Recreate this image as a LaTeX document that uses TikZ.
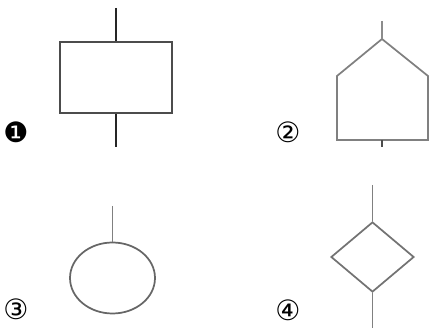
\documentclass[tikz,border=0pt]{standalone}
\usepackage{fontspec}
\newfontfamily\symfont{DejaVu Sans}
\usetikzlibrary{shapes.geometric, positioning}

\begin{document}
\begin{tikzpicture}[x=0.75pt, y=-0.75pt, font=\symfont\fontsize{21}{21}\selectfont]
				\useasboundingbox (0,0) rectangle (430,328);
				\tikzset{shape line/.style={draw=black!55, line width=1.3pt, inner sep=0pt}}
				
				% 1: rectangle
				\node[shape line, draw=black!70, line width=1.6pt, rectangle, minimum width=84pt, minimum height=53pt] (box) at (116,77.5) {};
				\coordinate (boxin) at (116,8);
				\coordinate (boxout) at (116,147);
				\draw[black!85, line width=1pt] (boxin) -- (box.north);
				\draw[black!85, line width=1pt] (box.south) -- (boxout);
				\node (n1) at (16,132) {❶};
				
				% 2: house
				\coordinate (roof) at (382,39);
				\coordinate (base) at (382,140);
				\draw[black!50, line width=1.3pt, line join=miter] (roof) -- (428,76) -- (428,140) -- (337,140) -- (337,76) -- cycle;
				\coordinate (roofin) at (382,21);
				\coordinate (baseout) at (382,147);
				\draw[black!45, line width=1.3pt] (roofin) -- (roof);
				\draw[black!70, line width=1.3pt] (base) -- (baseout);
				\node (n2) at (288,132) {②};
				
				% 3: ellipse
				\node[shape line, draw=black!60, ellipse, minimum width=63.75pt, minimum height=53.25pt] (oval) at (112.5,278) {};
				\coordinate (ovalin) at (112.5,206);
				\draw[black!50, line width=1.3pt] (ovalin) -- (oval.north);
				\node (n3) at (16,309) {③};
				
				% 4: diamond
				\node[shape line, diamond, minimum width=62.25pt, minimum height=52.5pt] (rhomb) at (372.5,257) {};
				\coordinate (rhombin) at (372.5,185);
				\coordinate (rhombout) at (372.5,328);
				\draw[black!50, line width=1.3pt] (rhombin) -- (rhomb.north);
				\draw[black!50, line width=1.3pt] (rhomb.south) -- (rhombout);
				\node (n4) at (288,310) {④};
			\end{tikzpicture}
\end{document}
